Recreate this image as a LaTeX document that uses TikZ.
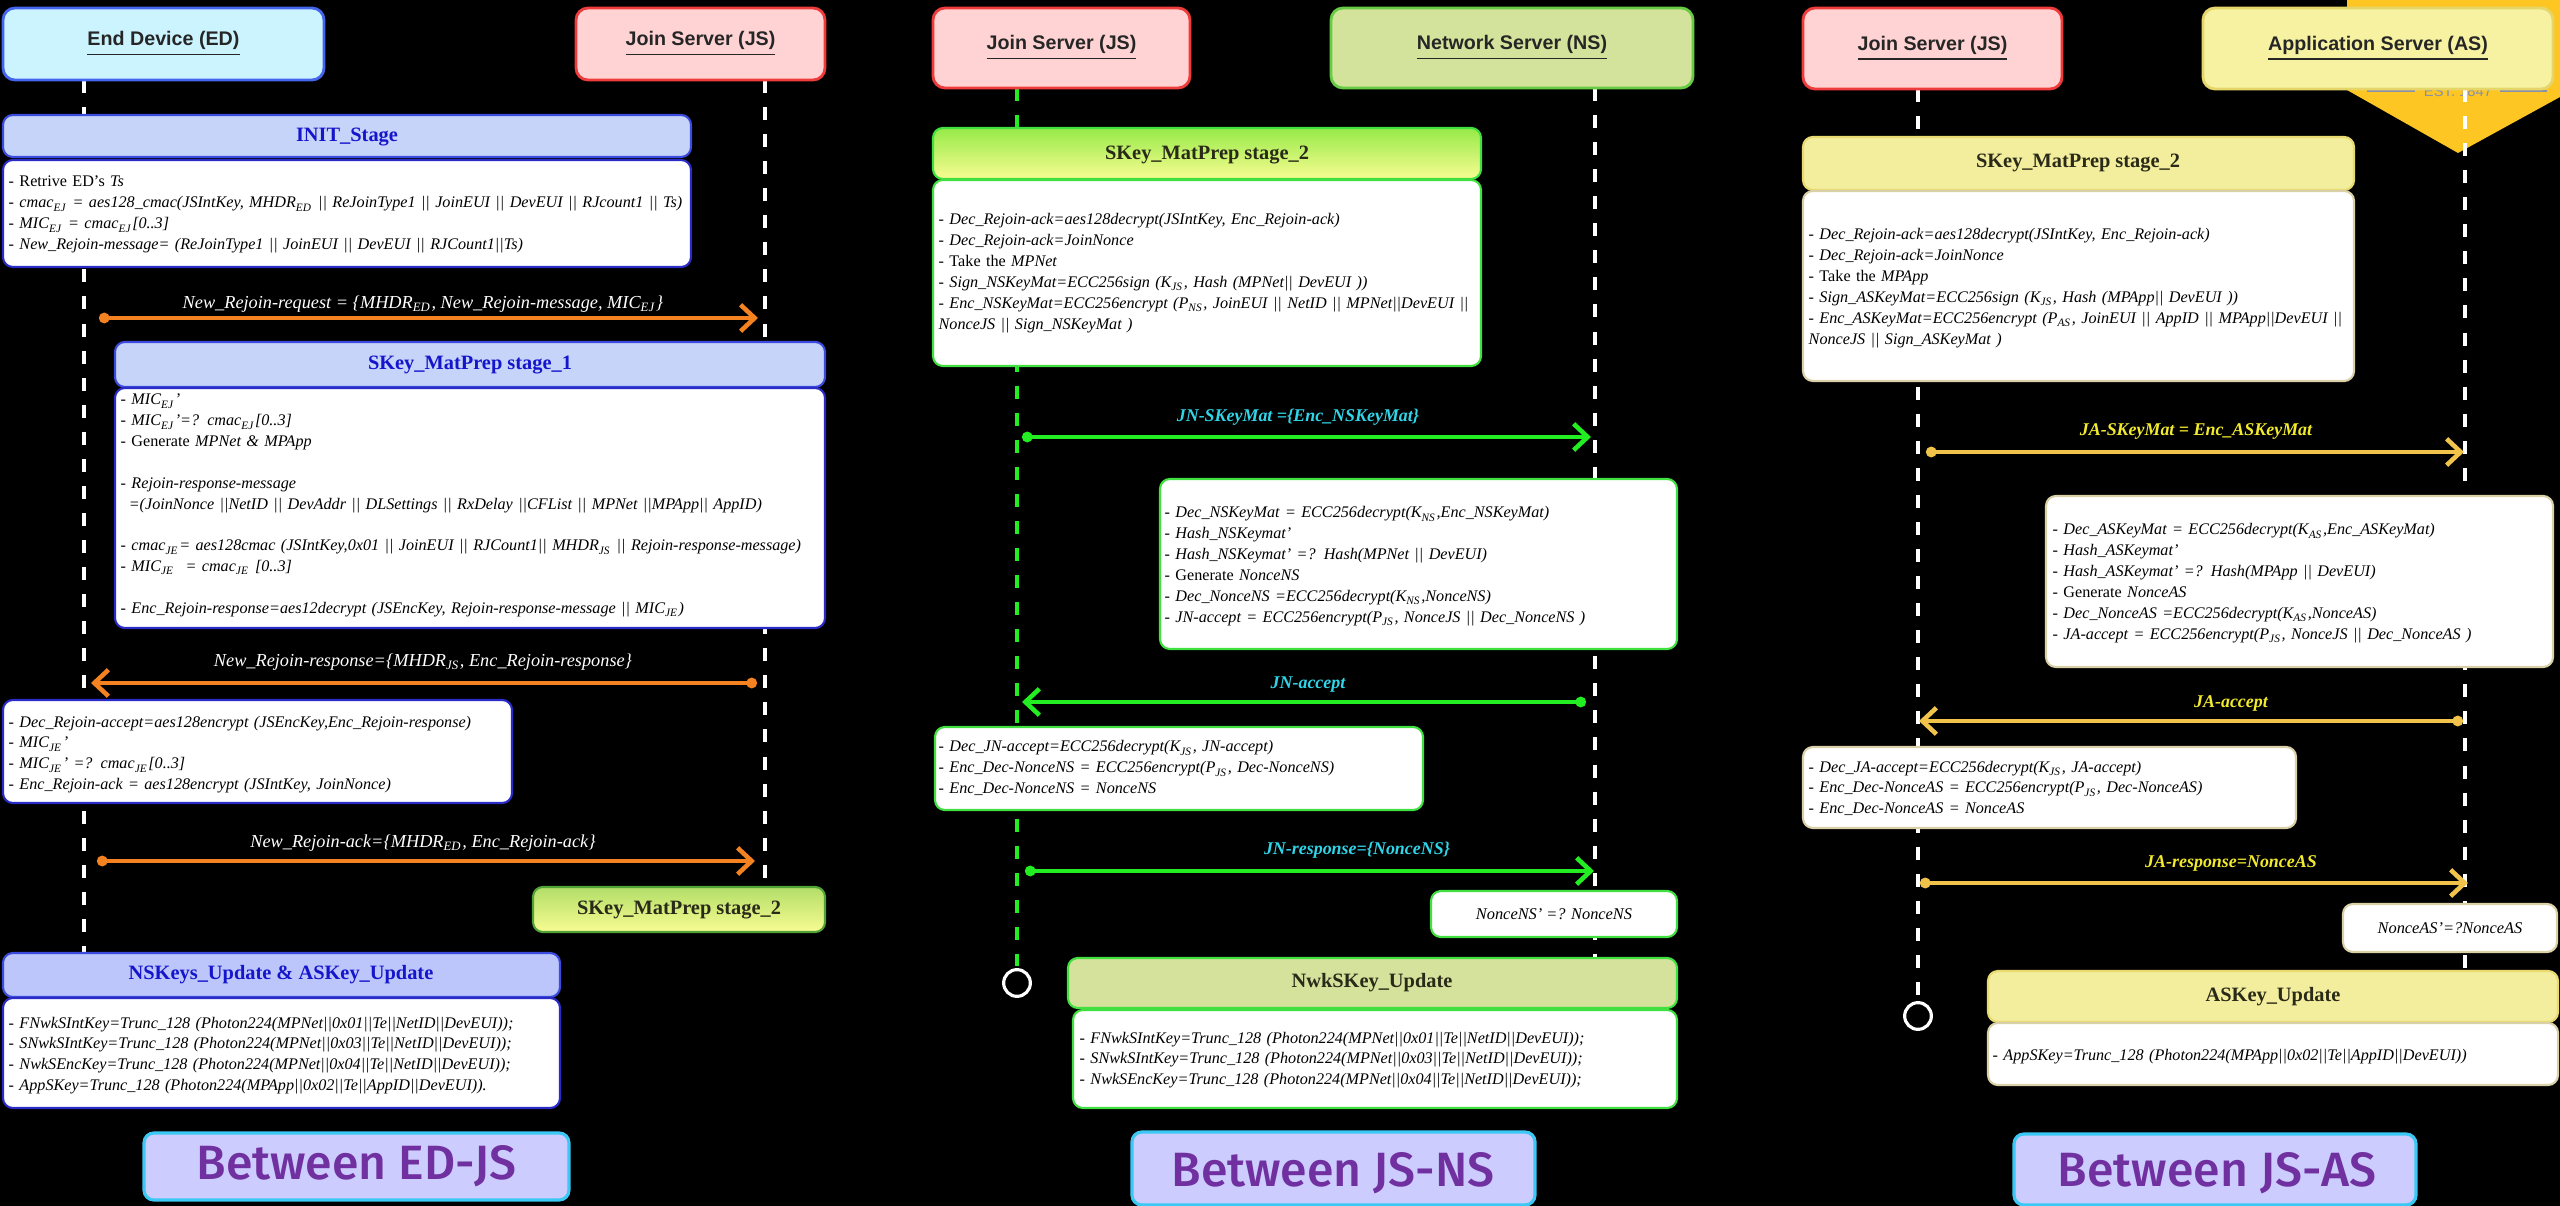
\documentclass[tikz,border=0pt]{standalone}
\usepackage{fontspec}
\setmainfont{Liberation Serif}
\newfontfamily\hdrsans{Liberation Sans}
\newfontfamily\btwsans{Fira Sans Medium}
\usetikzlibrary{arrows.meta,fit}

\newcommand\sbs[1]{\textsubscript{#1}}

\definecolor{edfill}{HTML}{CCF4FF}
\definecolor{edline}{HTML}{4466EE}
\definecolor{jsfill}{HTML}{FFD3D3}
\definecolor{jsline}{HTML}{EE3B3B}
\definecolor{nsfill}{HTML}{D4E39B}
\definecolor{nsline}{HTML}{66CC44}
\definecolor{asfill}{HTML}{F6F2A2}
\definecolor{asline}{HTML}{E6D66A}
\definecolor{stgfill}{HTML}{C6D4F9}
\definecolor{updfill}{HTML}{BCC6FA}
\definecolor{stgline}{HTML}{3B4BDD}
\definecolor{stgtext}{HTML}{1515CC}
\definecolor{pblue}{HTML}{2B2BC8}
\definecolor{gline}{HTML}{3FE03F}
\definecolor{yline}{HTML}{D9D0A8}
\definecolor{yhdr}{HTML}{F3EE9D}
\definecolor{yhdrline}{HTML}{E8DA70}
\definecolor{nwkfill}{HTML}{D5E29C}
\definecolor{arrO}{HTML}{F58220}
\definecolor{arrG}{HTML}{22EE22}
\definecolor{arrY}{HTML}{F2C34A}
\definecolor{lblG}{HTML}{30D5E8}
\definecolor{lblY}{HTML}{F2EA2E}
\definecolor{btwfill}{HTML}{CCCCFF}
\definecolor{btwline}{HTML}{3BC8F5}
\definecolor{btwtext}{HTML}{7030A0}
\definecolor{logoY}{HTML}{FDC623}
\definecolor{logoGray}{HTML}{8A90A8}
\definecolor{grnTop}{HTML}{B2DE68}
\definecolor{grnTopB}{HTML}{96EA48}
\definecolor{ylwBot}{HTML}{F8FC92}
\definecolor{hdrtext}{HTML}{2A2A18}

\tikzset{
  lifeW/.style={draw=white,line width=1.4pt,dash pattern=on 3.7pt off 4pt},
  lifeG/.style={lifeW,draw=arrG},
  rbox/.style={draw,rounded corners=2.8pt,line width=0.6pt,inner sep=0pt},
  actor/.style={rbox,rounded corners=3.4pt,line width=0.8pt},
  actortxt/.style={font=\hdrsans\bfseries\fontsize{5.6pt}{6pt}\selectfont,text=black!85,inner sep=0pt},
  stagetxt/.style={font=\bfseries\fontsize{5.8pt}{6pt}\selectfont,inner sep=0pt},
  bodytxt/.style={font=\fontsize{4.6pt}{5.92pt}\selectfont,anchor=base west,align=left,text width=100mm,inner sep=0pt,text=black},
  msg/.style={line width=1.3pt,{Circle[length=3pt]}-{Straight Barb[length=4pt,width=7.5pt]}},
  msgtxt/.style={font=\itshape\fontsize{5.2pt}{6pt}\selectfont,inner sep=0pt},
  msgtxtb/.style={font=\bfseries\itshape\fontsize{5.1pt}{6pt}\selectfont,inner sep=0pt},
  endmark/.style={circle,draw=white,fill=black,line width=0.9pt,minimum size=7.6pt,inner sep=0pt},
  btwbox/.style={rbox,fill=btwfill,draw=btwline,line width=0.9pt},
  btwtxt/.style={font=\btwsans\fontsize{13.7pt}{15pt}\selectfont,text=btwtext,inner sep=0pt},
}

\begin{document}
\begin{tikzpicture}[x=0.1mm,y=-0.1mm]
\useasboundingbox (0,0) rectangle (2560,1206);
\fill[black] (0,0) rectangle (2560,1206);

% crest partly hidden behind the application server box
\fill[logoY] (2347,0) -- (2347,90) -- (2458,153) -- (2560,97) -- (2560,0) -- cycle;
\draw[logoGray,line width=0.4pt] (2367,91) -- (2415,91) (2500,91) -- (2547,91);
\node[font=\hdrsans\fontsize{4.2pt}{5pt}\selectfont,text=logoGray,inner sep=0pt] (est) at (2458,91) {EST. 1847};

% ---------------- lifelines ----------------
\coordinate (edT) at (84,80);     \coordinate (edB) at (84,953);
\coordinate (jsaT) at (765,80);   \coordinate (jsaB) at (765,900);
\coordinate (jsbT) at (1017,88);  \coordinate (jsbB) at (1017,966);
\coordinate (nsT) at (1595,88);   \coordinate (nsB) at (1595,958);
\coordinate (jscT) at (1918,89);  \coordinate (jscB) at (1918,1000);
\coordinate (asT) at (2465,89);   \coordinate (asB) at (2465,971);
\draw[lifeW] (edT) -- (edB);
\draw[lifeW] (jsaT) -- (jsaB);
\draw[lifeG] (jsbT) -- (jsbB);
\draw[lifeW] (nsT) -- (nsB);
\draw[lifeW] (jscT) -- (jscB);
\draw[lifeW] (asT) -- (asB);
\node[endmark] (jsbEnd) at (1017,983) {};
\node[endmark] (jscEnd) at (1918,1016) {};

% ---------------- actors ----------------
\node[actor,fill=edfill,draw=edline,fit={(3,8) (324,80)}] (ed) {};
\node[actor,fill=jsfill,draw=jsline,fit={(576,8) (825,80)}] (jsa) {};
\node[actor,fill=jsfill,draw=jsline,fit={(933,8) (1190,88)}] (jsb) {};
\node[actor,fill=nsfill,draw=nsline,fit={(1331,8) (1693,88)}] (ns) {};
\node[actor,fill=jsfill,draw=jsline,fit={(1803,8) (2062,89)}] (jsc) {};
\node[actor,fill=asfill,draw=asline,fit={(2203,8) (2553,89)}] (as) {};
\node[actortxt] (edL) at (ed.center) {\underline{End Device (ED)}};
\node[actortxt] (jsaL) at (jsa.center) {\underline{Join Server (JS)}};
\node[actortxt] (jsbL) at (jsb.center) {\underline{Join Server (JS)}};
\node[actortxt] (nsL) at (ns.center) {\underline{Network Server (NS)}};
\node[actortxt] (jscL) at (jsc.center) {\underline{Join Server (JS)}};
\node[actortxt] (asL) at (as.center) {\underline{Application Server (AS)}};

% ================= Between ED-JS =================
\node[rbox,fill=stgfill,draw=stgline,fit={(3,115) (691,157)}] (initH) {};
\node[stagetxt,text=stgtext] (initHL) at (347,137) {INIT\_Stage};
\node[rbox,fill=white,draw=pblue,fit={(3,160) (691,267)}] (initB) {};
\node[bodytxt] (initT) at (8,187) {- Retrive ED's \textit{Ts}\\
- \textit{cmac\sbs{EJ} = aes128\_cmac(JSIntKey, MHDR\sbs{ED} || ReJoinType1 || JoinEUI || DevEUI || RJcount1 || Ts)}\\
- \textit{MIC\sbs{EJ} = cmac\sbs{EJ}[0..3]}\\
- \textit{New\_Rejoin-message= (ReJoinType1 || JoinEUI || DevEUI || RJCount1||Ts)}};

\coordinate (m1a) at (99,318); \coordinate (m1b) at (758,318);
\draw[msg,color=arrO] (m1a) -- (m1b);
\node[msgtxt,text=white] (m1L) at (423,304) {New\_Rejoin-request = \{MHDR\sbs{ED}, New\_Rejoin-message, MIC\sbs{EJ}\}};

\node[rbox,fill=stgfill,draw=stgline,fit={(115,342) (825,387)}] (st1H) {};
\node[stagetxt,text=stgtext] (st1HL) at (470,365) {SKey\_MatPrep stage\_1};
\node[rbox,fill=white,draw=pblue,fit={(115,388) (825,628)}] (st1B) {};
\node[bodytxt] (st1T) at (120,405) {- \textit{MIC\sbs{EJ}'}\\
- \textit{MIC\sbs{EJ}'=? cmac\sbs{EJ}[0..3]}\\
- Generate \textit{MPNet \& MPApp}\\
\mbox{}\\
- \textit{Rejoin-response-message}\\
\hspace*{0.5em}\textit{=(JoinNonce ||NetID || DevAddr || DLSettings || RxDelay ||CFList || MPNet ||MPApp|| AppID)}\\
\mbox{}\\
- \textit{cmac\sbs{JE}= aes128cmac (JSIntKey,0x01 || JoinEUI || RJCount1|| MHDR\sbs{JS} || Rejoin-response-message)}\\
- \textit{MIC\sbs{JE} \ = cmac\sbs{JE} [0..3]}\\
\mbox{}\\
- \textit{Enc\_Rejoin-response=aes12decrypt (JSEncKey, Rejoin-response-message || MIC\sbs{JE})}};

\coordinate (m2a) at (757,683); \coordinate (m2b) at (91,683);
\draw[msg,color=arrO] (m2a) -- (m2b);
\node[msgtxt,text=white] (m2L) at (423,662) {New\_Rejoin-response=\{MHDR\sbs{JS}, Enc\_Rejoin-response\}};

\node[rbox,fill=white,draw=pblue,fit={(3,700) (512,803)}] (decB) {};
\node[bodytxt] (decT) at (8,727) {- \textit{Dec\_Rejoin-accept=aes128encrypt (JSEncKey,Enc\_Rejoin-response)}\\
- \textit{MIC\sbs{JE}'}\\
- \textit{MIC\sbs{JE}' =? cmac\sbs{JE}[0..3]}\\
- \textit{Enc\_Rejoin-ack = aes128encrypt (JSIntKey, JoinNonce)}};

\coordinate (m3a) at (97,861); \coordinate (m3b) at (755,861);
\draw[msg,color=arrO] (m3a) -- (m3b);
\node[msgtxt,text=white] (m3L) at (423,843) {New\_Rejoin-ack=\{MHDR\sbs{ED}, Enc\_Rejoin-ack\}};

\node[rbox,top color=grnTop,bottom color=ylwBot,draw=nsline!80!black,fit={(533,887) (825,932)}] (st2a) {};
\node[stagetxt,text=hdrtext] (st2aL) at (679,910) {SKey\_MatPrep stage\_2};

\node[rbox,fill=updfill,draw=stgline,fit={(3,953) (560,997)}] (updH) {};
\node[stagetxt,text=stgtext] (updHL) at (281,975) {NSKeys\_Update \& ASKey\_Update};
\node[rbox,fill=white,draw=pblue,fit={(3,998) (560,1108)}] (updB) {};
\node[bodytxt] (updT) at (8,1028) {- \textit{FNwkSIntKey=Trunc\_128 (Photon224(MPNet||0x01||Te||NetID||DevEUI));}\\
- \textit{SNwkSIntKey=Trunc\_128 (Photon224(MPNet||0x03||Te||NetID||DevEUI));}\\
- \textit{NwkSEncKey=Trunc\_128 (Photon224(MPNet||0x04||Te||NetID||DevEUI));}\\
- \textit{AppSKey=Trunc\_128 (Photon224(MPApp||0x02||Te||AppID||DevEUI)).}};

\node[btwbox,fit={(144,1133) (569,1200)}] (btwA) {};
\node[btwtxt] (btwAL) at (btwA.center) {Between ED-JS};

% ================= Between JS-NS =================
\node[rbox,top color=grnTopB,bottom color=ylwBot,draw=gline,fit={(933,128) (1481,179)}] (st2b) {};
\node[stagetxt,text=hdrtext] (st2bL) at (1207,155) {SKey\_MatPrep stage\_2};
\node[rbox,fill=white,draw=gline,fit={(933,180) (1481,366)}] (st2bB) {};
\node[bodytxt] (st2bT) at (938,225) {- \textit{Dec\_Rejoin-ack=aes128decrypt(JSIntKey, Enc\_Rejoin-ack)}\\
- \textit{Dec\_Rejoin-ack=JoinNonce}\\
- Take the \textit{MPNet}\\
- \textit{Sign\_NSKeyMat=ECC256sign (K\sbs{JS}, Hash (MPNet|| DevEUI ))}\\
- \textit{Enc\_NSKeyMat=ECC256encrypt (P\sbs{NS}, JoinEUI || NetID || MPNet||DevEUI ||}\\
\textit{NonceJS || Sign\_NSKeyMat )}};

\coordinate (n1a) at (1022,437); \coordinate (n1b) at (1591,437);
\draw[msg,color=arrG] (n1a) -- (n1b);
\node[msgtxtb,text=lblG] (n1L) at (1298,417) {JN-SKeyMat =\{Enc\_NSKeyMat\}};

\node[rbox,fill=white,draw=gline,fit={(1160,479) (1677,649)}] (nsB1) {};
\node[bodytxt] (nsT1) at (1164,518) {- \textit{Dec\_NSKeyMat = ECC256decrypt(K\sbs{NS},Enc\_NSKeyMat)}\\
- \textit{Hash\_NSKeymat'}\\
- \textit{Hash\_NSKeymat' =? Hash(MPNet || DevEUI)}\\
- Generate \textit{NonceNS}\\
- \textit{Dec\_NonceNS =ECC256decrypt(K\sbs{NS},NonceNS)}\\
- \textit{JN-accept = ECC256encrypt(P\sbs{JS}, NonceJS || Dec\_NonceNS )}};

\coordinate (n2a) at (1586,702); \coordinate (n2b) at (1022,702);
\draw[msg,color=arrG] (n2a) -- (n2b);
\node[msgtxtb,text=lblG] (n2L) at (1308,685) {JN-accept};

\node[rbox,fill=white,draw=gline,fit={(935,727) (1423,810)}] (jsB2) {};
\node[bodytxt] (jsT2) at (938,752) {- \textit{Dec\_JN-accept=ECC256decrypt(K\sbs{JS}, JN-accept)}\\
- \textit{Enc\_Dec-NonceNS = ECC256encrypt(P\sbs{JS}, Dec-NonceNS)}\\
- \textit{Enc\_Dec-NonceNS = NonceNS}};

\coordinate (n3a) at (1025,871); \coordinate (n3b) at (1594,871);
\draw[msg,color=arrG] (n3a) -- (n3b);
\node[msgtxtb,text=lblG] (n3L) at (1357,850) {JN-response=\{NonceNS\}};

\node[rbox,fill=white,draw=gline,fit={(1431,891) (1677,937)}] (ncNS) {};
\node[font=\itshape\fontsize{4.66pt}{5.92pt}\selectfont,inner sep=0pt] (ncNSL) at (ncNS.center) {NonceNS' =? NonceNS};

\node[rbox,fill=nwkfill,draw=gline,fit={(1068,958) (1677,1008)}] (nwkH) {};
\node[stagetxt,text=hdrtext] (nwkHL) at (1372,983) {NwkSKey\_Update};
\node[rbox,fill=white,draw=gline,fit={(1073,1010) (1677,1108)}] (nwkB) {};
\node[bodytxt] (nwkT) at (1079,1043) {- \textit{FNwkSIntKey=Trunc\_128 (Photon224(MPNet||0x01||Te||NetID||DevEUI));}\\
- \textit{SNwkSIntKey=Trunc\_128 (Photon224(MPNet||0x03||Te||NetID||DevEUI));}\\
- \textit{NwkSEncKey=Trunc\_128 (Photon224(MPNet||0x04||Te||NetID||DevEUI));}};

\node[btwbox,fit={(1132,1132) (1535,1205)}] (btwB) {};
\node[btwtxt] (btwBL) at (1333,1173) {Between JS-NS};

% ================= Between JS-AS =================
\node[rbox,fill=yhdr,draw=yhdrline,fit={(1803,137) (2354,190)}] (st2c) {};
\node[stagetxt,text=hdrtext] (st2cL) at (2078,163) {SKey\_MatPrep stage\_2};
\node[rbox,fill=white,draw=yline,fit={(1803,191) (2354,381)}] (st2cB) {};
\node[bodytxt] (st2cT) at (1808,240) {- \textit{Dec\_Rejoin-ack=aes128decrypt(JSIntKey, Enc\_Rejoin-ack)}\\
- \textit{Dec\_Rejoin-ack=JoinNonce}\\
- Take the \textit{MPApp}\\
- \textit{Sign\_ASKeyMat=ECC256sign (K\sbs{JS}, Hash (MPApp|| DevEUI ))}\\
- \textit{Enc\_ASKeyMat=ECC256encrypt (P\sbs{AS}, JoinEUI || AppID || MPApp||DevEUI ||}\\
\textit{NonceJS || Sign\_ASKeyMat )}};

\coordinate (p1a) at (1926,452); \coordinate (p1b) at (2464,452);
\draw[msg,color=arrY] (p1a) -- (p1b);
\node[msgtxtb,text=lblY] (p1L) at (2196,432) {JA-SKeyMat = Enc\_ASKeyMat};

\node[rbox,fill=white,draw=yline,fit={(2046,496) (2553,667)}] (asB1) {};
\node[bodytxt] (asT1) at (2052,535) {- \textit{Dec\_ASKeyMat = ECC256decrypt(K\sbs{AS},Enc\_ASKeyMat)}\\
- \textit{Hash\_ASKeymat'}\\
- \textit{Hash\_ASKeymat' =? Hash(MPApp || DevEUI)}\\
- Generate \textit{NonceAS}\\
- \textit{Dec\_NonceAS =ECC256decrypt(K\sbs{AS},NonceAS)}\\
- \textit{JA-accept = ECC256encrypt(P\sbs{JS}, NonceJS || Dec\_NonceAS )}};

\coordinate (p2a) at (2463,721); \coordinate (p2b) at (1919,721);
\draw[msg,color=arrY] (p2a) -- (p2b);
\node[msgtxtb,text=lblY] (p2L) at (2231,703) {JA-accept};

\node[rbox,fill=white,draw=yline,fit={(1803,747) (2296,828)}] (jsB3) {};
\node[bodytxt] (jsT3) at (1808,772) {- \textit{Dec\_JA-accept=ECC256decrypt(K\sbs{JS}, JA-accept)}\\
- \textit{Enc\_Dec-NonceAS = ECC256encrypt(P\sbs{JS}, Dec-NonceAS)}\\
- \textit{Enc\_Dec-NonceAS = NonceAS}};

\coordinate (p3a) at (1920,883); \coordinate (p3b) at (2468,883);
\draw[msg,color=arrY] (p3a) -- (p3b);
\node[msgtxtb,text=lblY] (p3L) at (2231,863) {JA-response=NonceAS};

\node[rbox,fill=white,draw=yline,fit={(2343,904) (2557,952)}] (ncAS) {};
\node[font=\itshape\fontsize{4.66pt}{5.92pt}\selectfont,inner sep=0pt] (ncASL) at (ncAS.center) {NonceAS'=?NonceAS};

\node[rbox,fill=yhdr,draw=yhdrline,fit={(1988,971) (2558,1022)}] (askH) {};
\node[stagetxt,text=hdrtext] (askHL) at (2273,997) {ASKey\_Update};
\node[rbox,fill=white,draw=yline,fit={(1988,1023) (2558,1085)}] (askB) {};
\node[bodytxt] (askT) at (1992,1060) {- \textit{AppSKey=Trunc\_128 (Photon224(MPApp||0x02||Te||AppID||DevEUI))}};

\node[btwbox,fit={(2014,1134) (2416,1205)}] (btwC) {};
\node[btwtxt] (btwCL) at (2217,1173) {Between JS-AS};
\end{tikzpicture}
\end{document}
